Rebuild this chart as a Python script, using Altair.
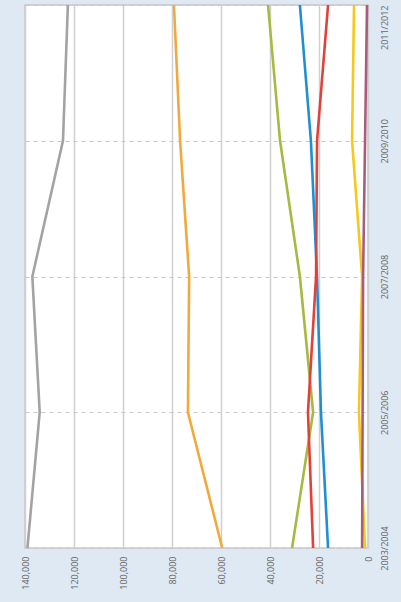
import altair as alt
import pandas as pd

periods = ["2003/2004", "2005/2006", "2007/2008", "2009/2010", "2011/2012"]
series_names = ["Grey", "Orange", "Olive", "Blue", "Red", "Yellow", "Mauve"]
grey = [139000, 134000, 137000, 124500, 122500]
orange = [59500, 73500, 73000, 76700, 79200]
olive = [31000, 22400, 27800, 35900, 40800]
blue = [16300, 19200, 20800, 23300, 27800]
red = [22400, 24500, 21200, 20800, 16300]
yellow = [1200, 3700, 2400, 6500, 5700]
mauve = [2400, 2200, 2000, 1200, 400]
colors = ["#a3a3a3", "#f2a93b", "#a7b940", "#1f8fd2", "#e2413a", "#f7c81a", "#a75d7c"]

values = [grey, orange, olive, blue, red, yellow, mauve]
rows = []
for name, vals in zip(series_names, values):
    for i, (p, v) in enumerate(zip(periods, vals)):
        rows.append({"series": name, "period": p, "idx": i, "value": v})
df = pd.DataFrame(rows)

chart = alt.Chart(df).mark_line(strokeWidth=2.6).encode(
    x=alt.X("value:Q",
            scale=alt.Scale(domain=[0, 140000], reverse=True, nice=False),
            axis=alt.Axis(values=[0, 20000, 40000, 60000, 80000, 100000, 120000, 140000],
                          format=",.0f", title=None, labelAngle=270, labelAlign="right",
                          labelBaseline="middle", labelPadding=8, ticks=False,
                          labelFontSize=9, labelColor="#666", labelFont="Open Sans",
                          domain=False, gridColor="#d0d0d0", gridWidth=1.5)),
    y=alt.Y("period:O", sort=list(reversed(periods)),
            scale=alt.Scale(padding=0),
            axis=alt.Axis(orient="right", title=None, labelAngle=270,
                          labelAlign=alt.condition("datum.value == '2011/2012'",
                                                   alt.value("right"), alt.value("center")),
                          labelBaseline="top", labelPadding=12, ticks=False,
                          labelFontSize=9, labelColor="#666", labelFont="Open Sans",
                          domain=False, grid=True, gridDash=[4, 4],
                          gridColor="#c8c8c8", gridWidth=1.2)),
    color=alt.Color("series:N", scale=alt.Scale(domain=series_names, range=colors), legend=None),
    order=alt.Order("idx:Q"),
).properties(
    width=343, height=543,
    autosize=alt.AutoSizeParams(type="none"),
    padding={"left": 25, "top": 5, "right": 33, "bottom": 54},
    background="#dfe9f4",
).configure_view(stroke="#c8c8c8", fill="white", strokeWidth=1.5)

chart.save("out.html", embed_options={"renderer": "svg", "actions": False})
